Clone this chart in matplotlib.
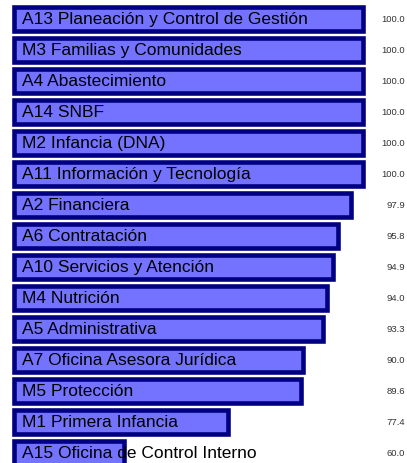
import matplotlib
matplotlib.use("Agg")
import matplotlib.pyplot as plt
import matplotlib.transforms as mtransforms

# Categories and scores (top to bottom)
areas = [
    "A13 Planeación y Control de Gestión",
    "M3 Familias y Comunidades",
    "A4 Abastecimiento",
    "A14 SNBF",
    "M2 Infancia (DNA)",
    "A11 Información y Tecnología",
    "A2 Financiera",
    "A6 Contratación",
    "A10 Servicios y Atención",
    "M4 Nutrición",
    "A5 Administrativa",
    "A7 Oficina Asesora Jurídica",
    "M5 Protección",
    "M1 Primera Infancia",
    "A15 Oficina de Control Interno",
]
scores = [100.0, 100.0, 100.0, 100.0, 100.0, 100.0, 97.9, 95.8, 94.9, 94.0, 93.3, 90.0, 89.6, 77.4, 60.0]
score_labels = ["%.1f" % s for s in scores]

plt.rcParams["font.family"] = ["Liberation Sans", "DejaVu Sans"]

BAR_START = 41.6
FILL = "#7373FF"
EDGE = "#000080"

fig = plt.figure(figsize=(4.07, 4.64), dpi=100)
ax = fig.add_axes([0, 0, 1, 1])

ypos = list(range(len(areas)))
widths = [s - BAR_START for s in scores]
ax.barh(ypos, widths, left=BAR_START, height=0.78, color=FILL,
        edgecolor=EDGE, linewidth=3.3, zorder=1)

for y, name in zip(ypos, areas):
    ax.text(42.9, y, name, ha="left", va="center", fontsize=12.5,
            color="black", zorder=3)

trans = mtransforms.blended_transform_factory(ax.transAxes, ax.transData)
for y, lab in zip(ypos, score_labels):
    ax.text(0.995, y, lab, transform=trans, ha="right", va="center",
            fontsize=6.8, color="#333333", zorder=3)

ax.set_xlim(39.25, 107.35)
ax.set_ylim(14.33, -0.637)
ax.axis("off")

fig.savefig("out.png", dpi=100)
